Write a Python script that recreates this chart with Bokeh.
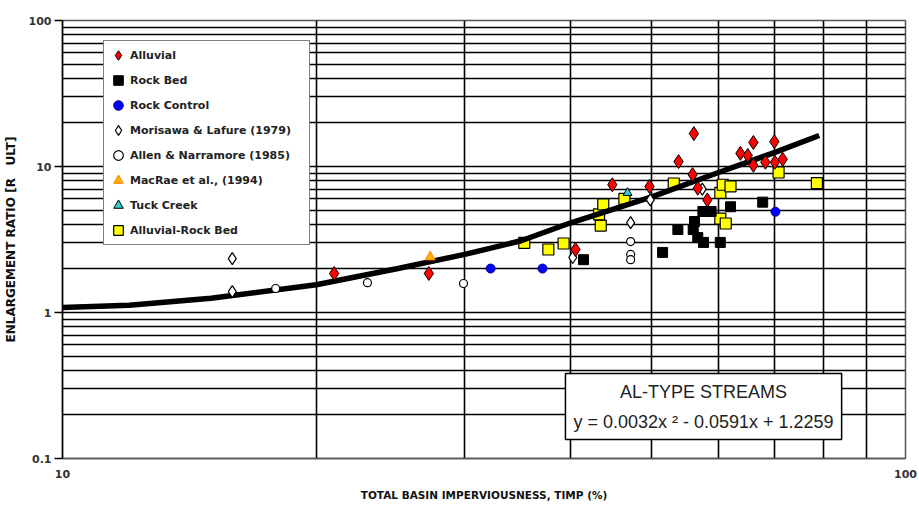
from bokeh.plotting import figure
from bokeh.models import FixedTicker, Legend, LegendItem, Label
from bokeh.embed import file_html
from bokeh.resources import INLINE

# ---- axis ticks ----
x_ticks = [10, 100]
x_tick_labels = ["10", "100"]
x_minor_ticks = [20, 30, 40, 50, 60, 70, 80, 90]
y_ticks = [0.1, 1, 10, 100]
y_tick_labels = ["0.1", "1", "10", "100"]
y_minor_ticks = [0.2, 0.3, 0.4, 0.5, 0.6, 0.7, 0.8, 0.9,
                 2, 3, 4, 5, 6, 7, 8, 9,
                 20, 30, 40, 50, 60, 70, 80, 90]

# ---- data ----
alluvial_x = [21.0, 27.2, 40.6, 44.9, 49.7, 53.8, 55.9, 56.1, 56.7, 58.2, 63.7, 65.0, 66.0, 66.0, 68.2, 69.9, 70.0, 71.5]
alluvial_y = [1.85, 1.85, 2.7, 7.5, 7.3, 10.8, 8.8, 16.8, 7.1, 5.9, 12.3, 11.9, 14.6, 10.2, 10.7, 14.8, 10.7, 11.2]

rockbed_x = [41.5, 51.5, 53.7, 57.5, 58.8, 56.2, 56.0, 56.7, 57.6, 60.3, 62.0, 67.7]
rockbed_y = [2.3, 2.58, 3.7, 4.92, 4.92, 4.2, 3.7, 3.26, 3.02, 3.02, 5.3, 5.7]

rockctl_x = [32.2, 37.1, 70.1]
rockctl_y = [2.0, 2.0, 4.9]

morisawa_x = [15.9, 15.9, 40.3, 47.2, 49.8, 57.4]
morisawa_y = [2.34, 1.39, 2.38, 4.13, 5.9, 7.0]

allen_x = [17.9, 23.0, 29.9, 47.2, 47.2, 47.2]
allen_y = [1.46, 1.6, 1.58, 3.06, 2.5, 2.3]

macrae_x = [27.3]
macrae_y = [2.4]

tuck_x = [46.8]
tuck_y = [6.6]

alrock_x = [35.3, 37.7, 39.3, 43.5, 43.3, 43.8, 46.4, 53.1, 60.3, 60.7, 62.0, 60.3, 61.2, 70.7, 78.5]
alrock_y = [3.0, 2.7, 2.97, 3.94, 4.7, 5.5, 6.0, 7.65, 6.6, 7.5, 7.3, 4.4, 4.07, 9.1, 7.7]

trend_x = [10, 12, 15, 20, 25, 30, 35, 40, 50, 60, 70, 79]
trend_y = [1.08, 1.12, 1.25, 1.55, 2.0, 2.5, 3.1, 4.1, 6.2, 9.1, 12.5, 16.3]

legend_labels = ["Alluvial", "Rock Bed", "Rock Control", "Morisawa & Lafure (1979)",
                 "Allen & Narramore (1985)", "MacRae et al., (1994)", "Tuck Creek",
                 "Alluvial-Rock Bed"]

box_title = "AL-TYPE STREAMS"
box_equation = "y = 0.0032x \u00b2 - 0.0591x + 1.2259"
box_x = 57.6
box_y = 0.227

FONT = "DejaVu Sans"

p = figure(width=918, height=506, x_axis_type="log", y_axis_type="log",
           x_range=(10, 100), y_range=(0.1, 100),
           output_backend="svg", toolbar_location=None,
           min_border_left=62, min_border_right=13, min_border_top=20, min_border_bottom=48)

p.background_fill_color = "white"
p.border_fill_color = "white"
p.outline_line_color = "#555555"
p.outline_line_width = 1.5

xt = FixedTicker(ticks=x_ticks, minor_ticks=x_minor_ticks)
yt = FixedTicker(ticks=y_ticks, minor_ticks=y_minor_ticks)
p.xaxis.ticker = xt
p.yaxis.ticker = yt
p.xaxis.major_label_overrides = {t: l for t, l in zip(x_ticks, x_tick_labels)}
p.yaxis.major_label_overrides = {t: l for t, l in zip(y_ticks, y_tick_labels)}

for g in (p.xgrid, p.ygrid):
    g.grid_line_color = "black"
    g.grid_line_width = 1.6
    g.grid_line_alpha = 1.0
    g.minor_grid_line_color = "black"
    g.minor_grid_line_width = 1.6
    g.minor_grid_line_alpha = 1.0

for ax in (p.xaxis, p.yaxis):
    ax.axis_line_color = "black"
    ax.axis_line_width = 1.5
    ax.minor_tick_line_color = None
    ax.minor_tick_out = 0
    ax.minor_tick_in = 0
    ax.major_label_text_font = FONT
    ax.major_label_text_font_style = "bold"
    ax.major_label_text_font_size = "11px"
    ax.major_label_text_color = "#333333"
    ax.axis_label_text_font = FONT
    ax.axis_label_text_font_style = "bold"
    ax.axis_label_text_color = "#111111"

p.xaxis.axis_line_color = "#555555"
p.xaxis.major_tick_line_color = None
p.xaxis.major_tick_out = 0
p.xaxis.major_tick_in = 0
p.xaxis.major_label_standoff = 11
p.xaxis.axis_label = "TOTAL BASIN IMPERVIOUSNESS, TIMP (%)"
p.xaxis.axis_label_text_font_size = "10.5px"
p.xaxis.axis_label_standoff = 8

p.yaxis.major_tick_out = 8
p.yaxis.major_tick_in = 0
p.yaxis.major_tick_line_width = 1.5
p.yaxis.major_label_standoff = 3
p.yaxis.axis_label = "ENLARGEMENT RATIO [R\u00a0\u00a0\u00a0ULT]"
p.yaxis.axis_label_text_font_size = "12px"
p.yaxis.axis_label_standoff = 8

# ---- glyphs ----
r_alrock = p.scatter(alrock_x, alrock_y, marker="square", size=11, fill_color="#FFFF00", line_color="black", line_width=1.2)
p.line(trend_x, trend_y, line_color="black", line_width=5.5)
r_rockbed = p.scatter(rockbed_x, rockbed_y, marker="square", size=10, fill_color="black", line_color="black")
r_morisawa = p.scatter(morisawa_x, morisawa_y, marker="diamond", size=12, fill_color="white", line_color="black", line_width=1.2)
r_allen = p.scatter(allen_x, allen_y, marker="circle", size=8, fill_color="white", line_color="black", line_width=1.2)
r_rockctl = p.scatter(rockctl_x, rockctl_y, marker="circle", size=9, fill_color="#0000FF", line_color="#000080", line_width=1)
r_macrae = p.scatter(macrae_x, macrae_y, marker="triangle", size=10, fill_color="#FFB000", line_color="#FF8000", line_width=1)
r_tuck = p.scatter(tuck_x, tuck_y, marker="triangle", size=9, fill_color="#33CCCC", line_color="black", line_width=1)
r_alluvial = p.scatter(alluvial_x, alluvial_y, marker="diamond", size=14, fill_color="#FF0000", line_color="black", line_width=1)

renderers = [r_alluvial, r_rockbed, r_rockctl, r_morisawa, r_allen, r_macrae, r_tuck, r_alrock]
items = [LegendItem(label=l, renderers=[r]) for l, r in zip(legend_labels, renderers)]
legend = Legend(items=items, location=(41, 213), orientation="vertical",
                padding=2, spacing=1, glyph_height=24, label_height=24, glyph_width=24,
                label_standoff=0, label_width=177,
                label_text_font=FONT, label_text_font_style="bold",
                label_text_font_size="11px", label_text_color="#222222",
                border_line_color="black", border_line_width=1.5,
                background_fill_color="white", background_fill_alpha=1.0)
p.add_layout(legend)

lab = Label(x=box_x, y=box_y, text=box_title + "\n" + box_equation,
            text_align="center", text_baseline="middle",
            text_font="Liberation Sans", text_font_size="18px", text_color="#222222",
            text_line_height=1.5,
            background_fill_color="white", border_line_color="black", border_line_width=1.5,
            padding=8)
p.add_layout(lab)

open("out.html", "w").write(file_html(p, INLINE))
